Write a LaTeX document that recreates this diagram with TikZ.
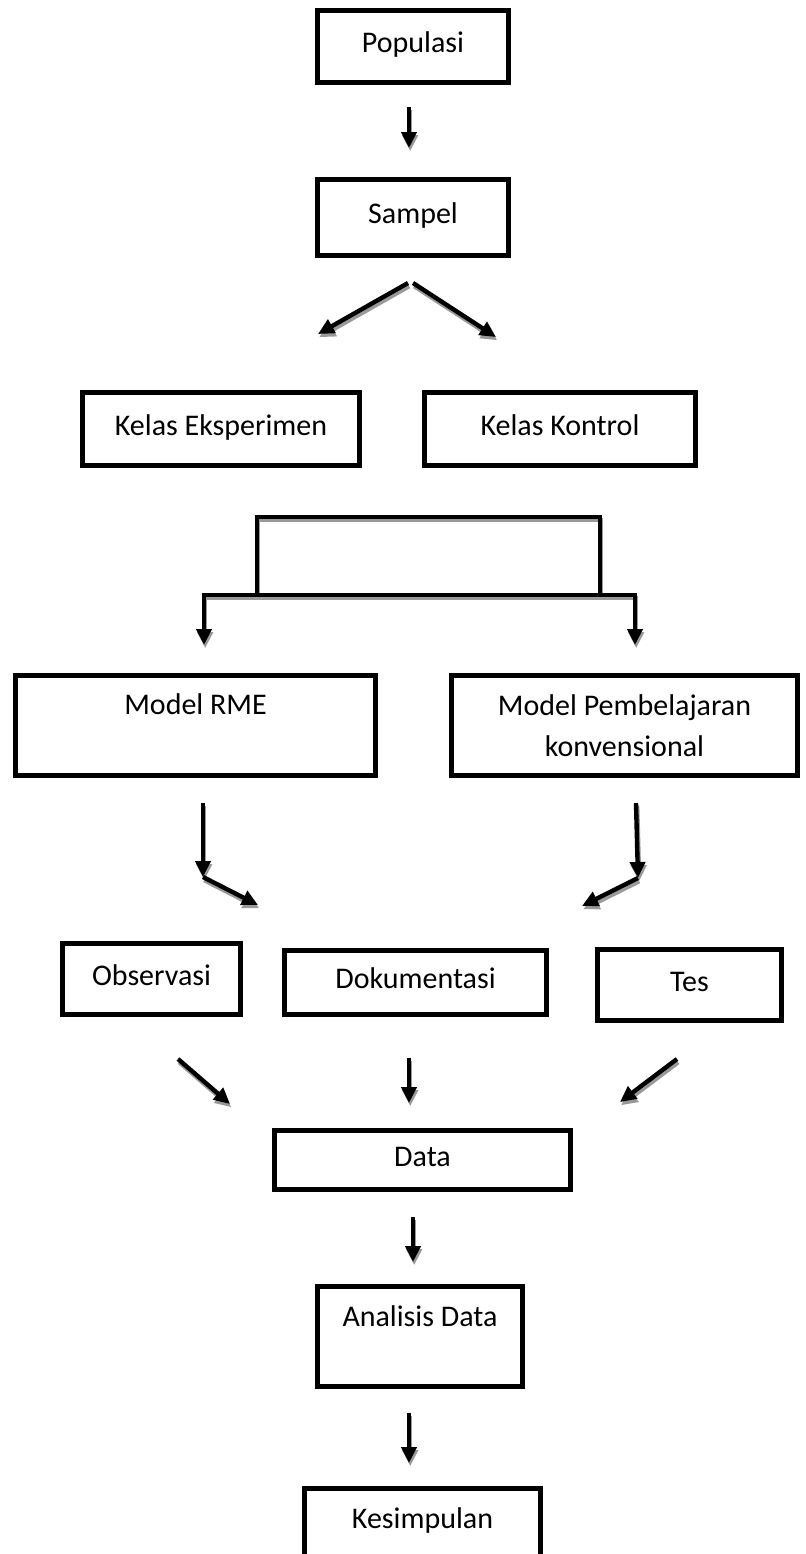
\documentclass[tikz,border=0pt]{standalone}
\usepackage{fontspec}
\setmainfont{Carlito}
\usetikzlibrary{arrows.meta}
\tikzset{
  box/.style={draw, line width=2.5pt, inner sep=3pt, font=\fontsize{15}{20.5}\selectfont},
  txt/.style={text height=10.5pt, text depth=4.5pt},
  arr/.style={line width=2.2pt, -{Triangle[width=7.5pt,length=8pt]}},
  ln/.style={line width=2.2pt},
  shd/.style={draw=black!40, transform canvas={shift={(0.6pt,-1.6pt)}}}
}

\begin{document}
\begin{tikzpicture}[x=0.5pt, y=-0.5pt]
\useasboundingbox (0,0) rectangle (806,1554);
% boxes
\node[box, txt, minimum width=95.5pt, minimum height=36pt] (pop) at (413,46.5) {Populasi};
\node[box, txt, minimum width=95.5pt, minimum height=38pt] (samp) at (413,217.5) {Sampel};
\node[box, txt, minimum width=138.5pt, minimum height=36.5pt] (eks) at (221,429) {Kelas Eksperimen};
\node[box, txt, minimum width=135.5pt, minimum height=36.5pt] (kon) at (560,429) {Kelas Kontrol};
\node[box, txt, text depth=22pt, minimum width=180pt, minimum height=50pt] (rme) at (195.5,725.5) {Model RME};
\node[box, align=center, minimum width=173pt, minimum height=50pt] (konv) at (624.5,725.5) {Model Pembelajaran\\konvensional};
\node[box, txt, minimum width=89pt, minimum height=35.5pt] (obs) at (151.5,979) {Observasi};
\node[box, txt, minimum width=131pt, minimum height=32pt] (dok) at (415.5,982.5) {Dokumentasi};
\node[box, txt, minimum width=92pt, minimum height=35.5pt] (tes) at (689.5,985) {Tes};
\node[box, txt, minimum width=148pt, minimum height=29.5pt] (data) at (422.5,1160) {Data};
\node[box, txt, text depth=21pt, minimum width=102.5pt, minimum height=50pt] (ana) at (420,1336.5) {Analisis Data};
\node[box, txt, text depth=12.5pt, minimum width=118pt, minimum height=41.5pt] (kes) at (422.5,1530) {Kesimpulan};

% arrow ends
\coordinate (p1) at (409,107);  \coordinate (p2) at (409,148);
\coordinate (s1) at (408,283);  \coordinate (sl) at (318,334);
\coordinate (s2) at (413,283);  \coordinate (sr) at (496,337);
\coordinate (r1) at (203,803);  \coordinate (r2) at (203,877);  \coordinate (r3) at (258,905);
\coordinate (q1) at (636,803);  \coordinate (q2) at (638,878);  \coordinate (q3) at (582,906);
\coordinate (o1) at (178,1059); \coordinate (o2) at (230,1104);
\coordinate (d1) at (409,1058); \coordinate (d2) at (409,1103);
\coordinate (t1) at (677,1059); \coordinate (t2) at (620,1102);
\coordinate (e1) at (413,1217); \coordinate (e2) at (413,1262);
\coordinate (f1) at (409,1413); \coordinate (f2) at (409,1463);

% bracket under the two classes
\coordinate (bl) at (257,595);  \coordinate (tl) at (257,517);
\coordinate (tr) at (600,517);  \coordinate (br) at (600,595);
\coordinate (bm) at (420,595);
\coordinate (ml) at (204,645);  \coordinate (mr) at (635,645);
\draw[ln, shd] (bl) -- (tl) -- (tr) -- (br);
\draw[ln] (bl) -- (tl) -- (tr) -- (br);
\foreach \m in {ml, mr} {
 \draw[arr, shd] (bm) -| (\m);
 \draw[arr] (bm) -| (\m);
}

% straight arrows with shadow
\foreach \a/\b in {p1/p2, s1/sl, s2/sr, r1/r2, r2/r3, q1/q2, q2/q3, o1/o2, d1/d2, t1/t2, e1/e2, f1/f2} {
 \draw[arr, shd] (\a) -- (\b);
 \draw[arr] (\a) -- (\b);
}
\end{tikzpicture}
\end{document}
